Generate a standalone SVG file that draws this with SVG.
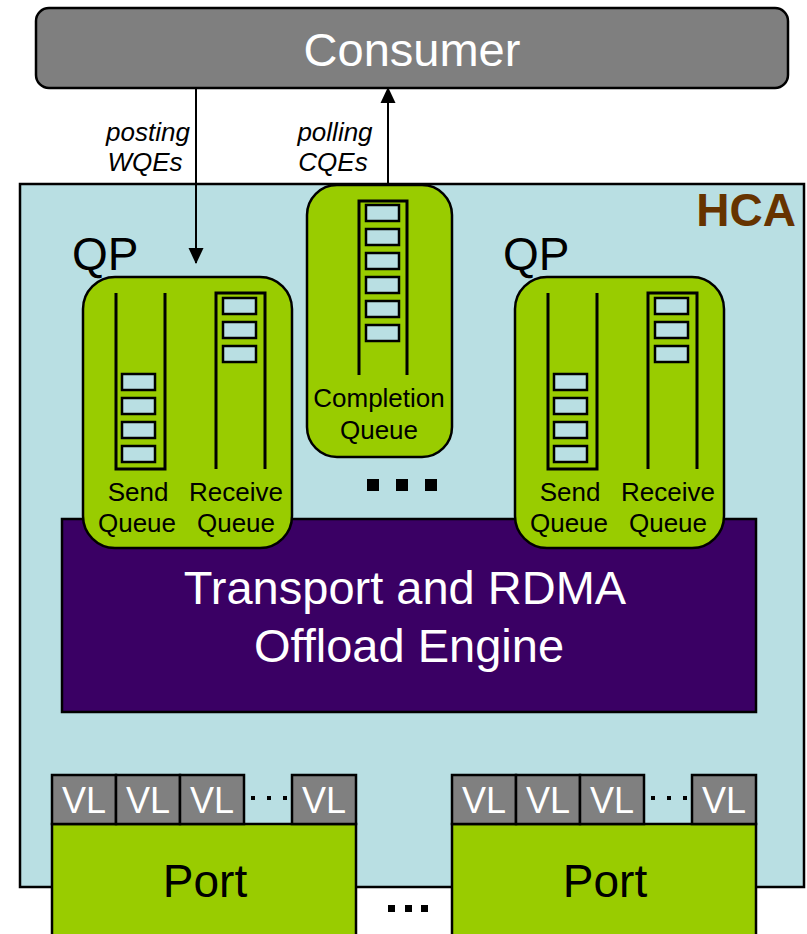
<svg xmlns="http://www.w3.org/2000/svg" width="807" height="934" viewBox="0 0 807 934">
<style>
text{font-family:"Liberation Sans",Arial,sans-serif}
.green{fill:#99cc00;stroke:#000;stroke-width:2.5}
.item{fill:#b9dfe3;stroke:#000;stroke-width:2.5}
.q{fill:none;stroke:#000;stroke-width:3}
.lbl{font-size:26px;fill:#000;text-anchor:middle}
.vl{fill:#808080;stroke:#000;stroke-width:2.5}
.vlt{font-size:36px;fill:#fff;text-anchor:middle}
.it{font-size:26px;font-style:italic;fill:#000;text-anchor:middle}
.conn{stroke:#000;stroke-width:2;fill:none}
</style>
<defs>
<marker id="ah2" markerWidth="16" markerHeight="16" refX="15" refY="7.5" orient="auto" markerUnits="userSpaceOnUse" viewBox="0 0 16 15">
<path d="M0,0 L16,7.5 L0,15 Z" fill="#000"/>
</marker>
<g id="qpShape">
<rect class="green" x="83" y="277" width="209" height="271" rx="32"/>
<path class="q" d="M116 293 V469 H165 V293"/>
<rect class="item" x="122" y="374" width="33" height="16"/>
<rect class="item" x="122" y="398" width="33" height="16"/>
<rect class="item" x="122" y="422" width="33" height="16"/>
<rect class="item" x="122" y="446" width="33" height="16"/>
<path class="q" d="M216 469 V293 H265 V469"/>
<rect class="item" x="223" y="298" width="33" height="16"/>
<rect class="item" x="223" y="322" width="33" height="16"/>
<rect class="item" x="223" y="346" width="33" height="16"/>
<text class="lbl" x="138" y="501">Send</text>
<text class="lbl" x="137" y="532">Queue</text>
<text class="lbl" x="236" y="501">Receive</text>
<text class="lbl" x="236" y="532">Queue</text>
</g>
<g id="portShape">
<rect class="green" x="52" y="824" width="304" height="130"/>
<rect class="vl" x="52" y="775" width="64" height="49"/>
<rect class="vl" x="116" y="775" width="64" height="49"/>
<rect class="vl" x="180" y="775" width="64" height="49"/>
<rect class="vl" x="292" y="775" width="64" height="49"/>
<text class="vlt" x="84" y="813">VL</text>
<text class="vlt" x="148" y="813">VL</text>
<text class="vlt" x="212" y="813">VL</text>
<text class="vlt" x="324" y="813">VL</text>
<rect x="251" y="796" width="4" height="4" fill="#000"/>
<rect x="267" y="796" width="4" height="4" fill="#000"/>
<rect x="283" y="796" width="4" height="4" fill="#000"/>
<text x="205" y="897" font-size="46" fill="#000" text-anchor="middle">Port</text>
</g>
</defs>

<g id="hca">
<rect x="20" y="184" width="784" height="703" fill="#b9dfe3" stroke="#000" stroke-width="2.5"/>
<text x="796" y="226" font-size="46" font-weight="bold" fill="#663300" text-anchor="end">HCA</text>
</g>

<g id="consumer">
<rect x="36" y="8" width="752" height="80" rx="13" fill="#7f7f7f" stroke="#000" stroke-width="2.5"/>
<text x="412" y="66" font-size="47" fill="#fff" text-anchor="middle">Consumer</text>
</g>

<g id="engine">
<rect x="62" y="519" width="694" height="193" fill="#3a0064" stroke="#000" stroke-width="2.5"/>
<text x="405" y="604" font-size="47" fill="#fff" text-anchor="middle">Transport and RDMA</text>
<text x="409" y="662" font-size="47" fill="#fff" text-anchor="middle">Offload Engine</text>
</g>

<g id="qp1">
<text x="72" y="270" font-size="46" fill="#000">QP</text>
<use href="#qpShape"/>
</g>

<g id="qp2">
<text x="503" y="270" font-size="46" fill="#000">QP</text>
<use href="#qpShape" transform="translate(432,0)"/>
</g>

<g id="cq">
<rect class="green" x="307" y="185" width="145" height="272" rx="30"/>
<path class="q" d="M359 375 V201 H407 V375"/>
<rect class="item" x="366" y="205" width="33" height="16"/>
<rect class="item" x="366" y="229" width="33" height="16"/>
<rect class="item" x="366" y="253" width="33" height="16"/>
<rect class="item" x="366" y="277" width="33" height="16"/>
<rect class="item" x="366" y="301" width="33" height="16"/>
<rect class="item" x="366" y="325" width="33" height="16"/>
<text class="lbl" x="379" y="407">Completion</text>
<text class="lbl" x="379" y="439">Queue</text>
</g>

<g id="cqdots">
<rect x="367" y="479" width="12" height="12" fill="#000"/>
<rect x="396" y="479" width="12" height="12" fill="#000"/>
<rect x="425" y="479" width="12" height="12" fill="#000"/>
</g>

<g id="port1">
<use href="#portShape"/>
</g>
<g id="port2">
<use href="#portShape" transform="translate(400,0)"/>
</g>

<g id="portdots">
<rect x="388" y="905" width="7" height="7" fill="#000"/>
<rect x="405" y="905" width="7" height="7" fill="#000"/>
<rect x="421" y="905" width="7" height="7" fill="#000"/>
</g>

<g id="connectors">
<line class="conn" x1="196" y1="88" x2="196" y2="263" marker-end="url(#ah2)"/>
<line class="conn" x1="388" y1="185" x2="388" y2="88" marker-end="url(#ah2)"/>
<text class="it" x="148" y="141">posting</text>
<text class="it" x="145" y="171">WQEs</text>
<text class="it" x="335" y="141">polling</text>
<text class="it" x="333" y="171">CQEs</text>
</g>
</svg>
